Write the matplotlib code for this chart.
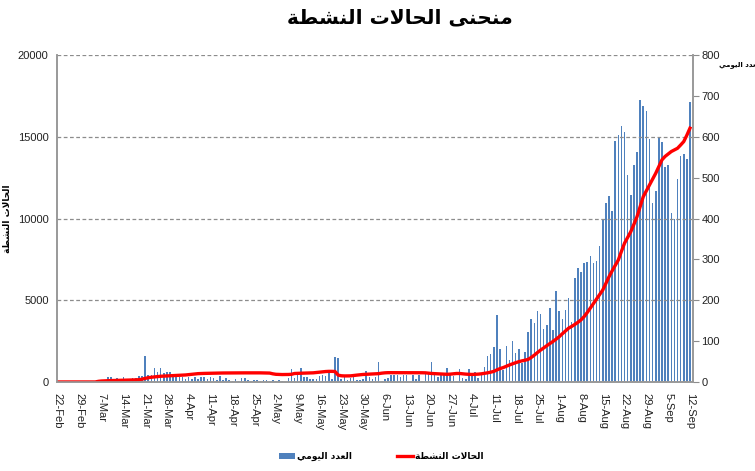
import matplotlib
matplotlib.use("Agg")
import matplotlib.pyplot as plt
import pandas as pd

# Arabic text is given in presentation forms, already in visual order
TITLE = "\uFE94\uFEC4\uFEB8\uFEE8\uFEDF\uFE8D \uFE95\uFEFB\uFE8E\uFEA4\uFEDF\uFE8D \uFEF0\uFEE8\uFEA4\uFEE8\uFEE3"
LABEL_ACTIVE = "\uFE94\uFEC4\uFEB8\uFEE8\uFEDF\uFE8D \uFE95\uFEFB\uFE8E\uFEA4\uFEDF\uFE8D"
LABEL_DAILY = "\uFEF2\uFEE3\uFEEE\uFEF4\uFEDF\uFE8D \uFEA9\uFEAA\uFECC\uFEDF\uFE8D"

START_DATE = "2020-02-22"

daily = [
    # 22-Feb .. 8-Mar
    0, 0, 0, 0, 0, 0, 0, 0, 0, 0, 0, 0, 0, 0, 2, 0,
    # 9-Mar .. 12-Apr
    13, 13, 2, 9, 3, 12, 4, 8, 10, 10, 15, 15, 64, 17, 16, 35, 25, 33, 23, 25,
    25, 12, 12, 12, 12, 8, 12, 8, 13, 8, 13, 13, 8, 13, 10,
    # 13-Apr .. 30-May
    5, 15, 4, 9, 5, 3, 8, 2, 9, 10, 6, 3, 5, 4, 3, 5, 4, 3, 5, 3,
    4, 3, 0, 10, 32, 10, 16, 34, 13, 13, 8, 8, 8, 15, 17, 15, 22, 8, 61, 59,
    8, 12, 6, 10, 12, 6, 6, 8,
    # 31-May .. 11-Jul
    27, 11, 7, 11, 50, 3, 7, 10, 17, 17, 17, 11, 17, 17, 0, 17, 7, 17, 3, 24,
    24, 50, 17, 11, 17, 17, 34, 17, 15, 3, 32, 10, 7, 32, 17, 24, 10, 20, 37, 64,
    68, 85,
    # 12-Jul .. 10-Aug
    164, 81, 29, 89, 54, 100, 72, 81, 46, 73, 122, 153, 145, 174, 166, 130, 140,
    181, 127, 222, 174, 153, 176, 206, 146, 255, 278, 270, 291, 294,
    # 11-Aug .. 12-Sep
    308, 290, 296, 333, 396, 438, 455, 419, 589, 604, 626, 611, 506, 457, 531,
    562, 690, 675, 663, 594, 437, 467, 598, 588, 525, 530, 414, 399, 498, 553,
    559, 546, 686,
]

active = [
    1, 1, 1, 1, 1, 1, 1, 1, 1, 1, 1, 1, 1,
    40, 60, 70, 75, 85, 90, 95, 100, 105, 110, 115, 120, 130, 140,
    170, 220, 260, 290, 310, 330, 350, 360, 370, 380, 390, 400, 410, 420, 430,
    450, 470, 490, 510, 520, 525, 530, 535, 540,
    545, 548, 550, 552, 553, 555, 556, 557, 558, 558, 559, 560, 560, 560, 558,
    555, 550, 545,
    500, 470, 460, 455, 455, 460, 470,
    520, 530, 535, 540, 545, 550, 560, 580, 600, 620,
    640, 650, 650, 640,
    420, 380, 370, 370, 375,
    400, 420, 440, 460, 470, 480, 490, 500, 510,
    540, 560, 570, 570, 570, 575, 575, 575, 575, 575, 570, 570, 570, 565, 560,
    540, 520, 510, 500, 490, 480, 470, 480, 500, 520, 520, 500, 480, 470, 460,
    470, 480, 500,
    530, 560, 600, 650,
    740, 820, 880, 960, 1040, 1110, 1180, 1240, 1290, 1330, 1380, 1500, 1640,
    1800, 1950, 2080, 2220, 2350, 2480, 2620, 2770, 2950, 3120, 3290, 3400,
    3520, 3650, 3800, 4000, 4250, 4520,
    4800, 5080, 5350, 5630, 6030, 6440, 6800, 7130, 7470, 8000, 8500, 8850,
    9200, 9650, 10120, 10730, 11340, 11700, 12060, 12420, 12770, 13180, 13590,
    13800, 13950, 14100, 14200, 14300, 14500, 14710, 15100, 15530,
]

dates = pd.date_range(START_DATE, periods=len(daily), freq="D")
date_labels = [f"{d.day}-{d.strftime('%b')}" for d in dates]
left_ticks = [0, 5000, 10000, 15000, 20000]
right_ticks = [0, 100, 200, 300, 400, 500, 600, 700, 800]

plt.rcParams["font.family"] = ["Liberation Sans", "DejaVu Sans"]
AR = ["DejaVu Sans"]

fig = plt.figure(figsize=(7.55, 4.71), dpi=100)
ax = fig.add_axes([0.0755, 0.189, 0.8425, 0.694])
ax2 = ax.twinx()

x = range(len(daily))
bars = ax2.bar(x, daily, width=0.5, color="#4F81BD", label=LABEL_DAILY)
ax2.set_ylim(0, 800)
ax2.set_yticks(right_ticks)

ax.grid(axis="y", linestyle=(0, (3, 2)), color="#8c8c8c", linewidth=0.9)
line, = ax.plot(x, active, color="#ff0000", linewidth=2.4, label=LABEL_ACTIVE)
ax.set_ylim(0, 20000)
ax.set_yticks(left_ticks)
ax.set_zorder(ax2.get_zorder() + 1)
ax.patch.set_visible(False)

ax.set_xlim(-0.3, len(daily))
ax.set_xticks(list(x)[::7])
ax.set_xticklabels(date_labels[::7], rotation=270, fontsize=8, color="#222222")
ax.tick_params(axis="x", length=0, pad=8)
ax.tick_params(axis="y", length=0, labelsize=8, colors="#222222", pad=6)
ax2.tick_params(axis="y", length=4, labelsize=8, colors="#222222",
                direction="out", pad=2)
ax2.tick_params(axis="y", color="#8c8c8c")

for a in (ax, ax2):
    a.spines["top"].set_visible(False)
    for s in ("left", "right", "bottom"):
        a.spines[s].set_color("#999999")
        a.spines[s].set_linewidth(1.2)

ax.set_ylabel(LABEL_ACTIVE, family=AR, fontsize=6.5, fontweight="bold", labelpad=4)
fig.text(0.952, 0.862, LABEL_DAILY, family=AR, fontsize=5, fontweight="bold",
         ha="left", va="center")
fig.text(0.53, 0.962, TITLE, family=AR, fontsize=14.5, fontweight="bold",
         ha="center", va="center")

leg = fig.legend([bars, line], [LABEL_DAILY, LABEL_ACTIVE], loc="center",
                 bbox_to_anchor=(0.505, 0.03), ncol=2, frameon=False,
                 columnspacing=5, handlelength=1.8, handletextpad=0.2,
                 prop={"family": AR, "size": 6.5, "weight": "bold"})

fig.savefig("out.png", dpi=100)
